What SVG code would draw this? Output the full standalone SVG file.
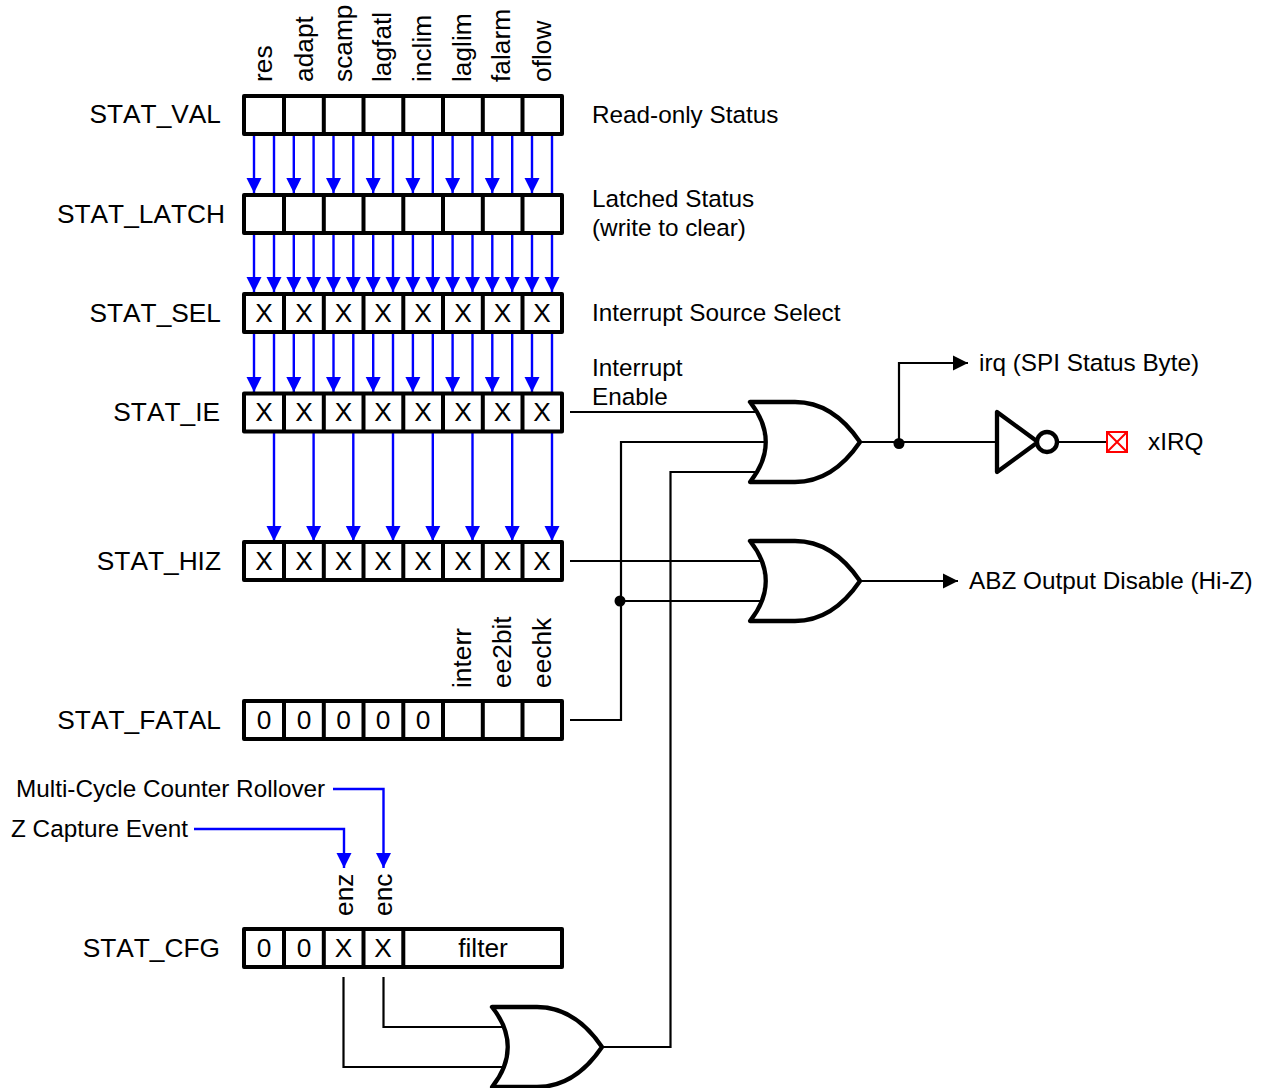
<svg xmlns="http://www.w3.org/2000/svg" xmlns:xlink="http://www.w3.org/1999/xlink" width="1262" height="1088" viewBox="0 0 1262 1088">
<style>
text{font-family:"Liberation Sans",Arial,sans-serif;font-size:26.300px;fill:#000}
.sm{font-size:24.300px}
.c{text-anchor:middle}
.e{text-anchor:end;font-kerning:none}
.reg{fill:#fff;stroke:#000;stroke-width:4;stroke-linejoin:round}
.div{stroke:#000;stroke-width:4;fill:none}
.blue{stroke:#00f;stroke-width:2.4;fill:none}
.ar{marker-end:url(#ba)}
.wire{stroke:#000;stroke-width:2.2;fill:none}
.gate{fill:#fff;stroke:#000;stroke-width:4.300;stroke-linejoin:round}
</style>
<defs>
<marker id="ba" markerUnits="userSpaceOnUse" markerWidth="16" markerHeight="16" refX="15" refY="8" orient="auto"><path d="M0,0.5L15,8L0,15.5Z" fill="#00f"/></marker>
<marker id="ka" markerUnits="userSpaceOnUse" markerWidth="16" markerHeight="16" refX="15" refY="8" orient="auto"><path d="M0,0.500L15,8L0,15.500Z" fill="#000"/></marker>
<path id="cells" class="div" d="M284,0V38M323.800,0V38M363.500,0V38M403.300,0V38M443,0V38M482.800,0V38M522.500,0V38"/>
<path id="or" class="gate" d="M0,0H45C75,0 95,18 110,40C95,62 75,80 45,80H0C21,54 21,26 0,0Z"/>
</defs>

<g id="connectors">
<path class="blue ar" d="M254,134V193"/><path class="blue" d="M274,134V193"/><path class="blue ar" d="M293.800,134V193"/><path class="blue" d="M313.600,134V193"/><path class="blue ar" d="M333.500,134V193"/><path class="blue" d="M353.300,134V193"/><path class="blue ar" d="M373.200,134V193"/><path class="blue" d="M393,134V193"/><path class="blue ar" d="M412.900,134V193"/><path class="blue" d="M432.800,134V193"/><path class="blue ar" d="M452.600,134V193"/><path class="blue" d="M472.500,134V193"/><path class="blue ar" d="M492.300,134V193"/><path class="blue" d="M512.200,134V193"/><path class="blue ar" d="M532,134V193"/><path class="blue" d="M552,134V193"/>
<path class="blue ar" d="M254,233V292"/><path class="blue ar" d="M274,233V292"/><path class="blue ar" d="M293.800,233V292"/><path class="blue ar" d="M313.600,233V292"/><path class="blue ar" d="M333.500,233V292"/><path class="blue ar" d="M353.300,233V292"/><path class="blue ar" d="M373.200,233V292"/><path class="blue ar" d="M393,233V292"/><path class="blue ar" d="M412.900,233V292"/><path class="blue ar" d="M432.800,233V292"/><path class="blue ar" d="M452.600,233V292"/><path class="blue ar" d="M472.500,233V292"/><path class="blue ar" d="M492.300,233V292"/><path class="blue ar" d="M512.200,233V292"/><path class="blue ar" d="M532,233V292"/><path class="blue ar" d="M552,233V292"/>
<path class="blue ar" d="M254,332V392"/><path class="blue" d="M274,332V392"/><path class="blue ar" d="M293.800,332V392"/><path class="blue" d="M313.600,332V392"/><path class="blue ar" d="M333.500,332V392"/><path class="blue" d="M353.300,332V392"/><path class="blue ar" d="M373.200,332V392"/><path class="blue" d="M393,332V392"/><path class="blue ar" d="M412.900,332V392"/><path class="blue" d="M432.800,332V392"/><path class="blue ar" d="M452.600,332V392"/><path class="blue" d="M472.500,332V392"/><path class="blue ar" d="M492.300,332V392"/><path class="blue" d="M512.200,332V392"/><path class="blue ar" d="M532,332V392"/><path class="blue" d="M552,332V392"/>
<path class="blue ar" d="M274,432V541"/><path class="blue ar" d="M313.600,432V541"/><path class="blue ar" d="M353.300,432V541"/><path class="blue ar" d="M393,432V541"/><path class="blue ar" d="M432.800,432V541"/><path class="blue ar" d="M472.500,432V541"/><path class="blue ar" d="M512.200,432V541"/><path class="blue ar" d="M552,432V541"/>
<path class="blue ar" d="M333,789H383.500V868"/>
<path class="blue ar" d="M194,829H344V868"/>
<path class="wire" d="M570,412H760"/>
<path class="wire" d="M570,720H621V442H770"/>
<path class="wire" d="M621,601H770"/>
<path class="wire" d="M570,561H760"/>
<path class="wire" d="M760,472H670.500V1047H600"/>
<path class="wire" d="M383.500,977V1027H510"/>
<path class="wire" d="M343.500,977V1067H510"/>
<path class="wire" d="M855,442H1000"/>
<path class="wire" style="marker-end:url(#ka)" d="M899,442V363H968"/>
<path class="wire" style="marker-end:url(#ka)" d="M855,581H958"/>
<path class="wire" d="M1055,442H1107"/>
<circle cx="899" cy="443.500" r="5.500" fill="#000"/>
<circle cx="620" cy="601" r="5.500" fill="#000"/>
</g>

<g id="stat_val"><rect class="reg" x="244" y="96" width="318" height="38"/><use xlink:href="#cells" y="96"/>
<text class="e" x="221" y="123">STAT_VAL</text><text class="sm" x="592" y="123">Read-only Status</text>
<text transform="translate(272,82) rotate(-90)">res</text>
<text transform="translate(313,82) rotate(-90)">adapt</text><text transform="translate(352,82) rotate(-90)">scamp</text><text transform="translate(391,82) rotate(-90)">lagfatl</text><text transform="translate(431,82) rotate(-90)">inclim</text><text transform="translate(471,82) rotate(-90)">laglim</text><text transform="translate(510,82) rotate(-90)">falarm</text><text transform="translate(551,82) rotate(-90)">oflow</text></g>

<g id="stat_latch"><rect class="reg" x="244" y="195" width="318" height="38"/><use xlink:href="#cells" y="195"/>
<text class="e" x="225" y="223">STAT_LATCH</text><text class="sm" x="592" y="207">Latched Status</text><text class="sm" x="592" y="236">(write to clear)</text></g>

<g id="stat_sel"><rect class="reg" x="244" y="294" width="318" height="38"/><use xlink:href="#cells" y="294"/>
<text class="e" x="221" y="322">STAT_SEL</text><text class="sm" x="592" y="321">Interrupt Source Select</text>
<text class="c" x="264" y="322">X</text><text class="c" x="304" y="322">X</text><text class="c" x="343.500" y="322">X</text><text class="c" x="383" y="322">X</text><text class="c" x="423" y="322">X</text><text class="c" x="463" y="322">X</text><text class="c" x="502.500" y="322">X</text><text class="c" x="542" y="322">X</text></g>

<g id="stat_ie"><rect class="reg" x="244" y="393.500" width="318" height="38"/><use xlink:href="#cells" y="393.500"/>
<text class="e" x="220" y="421">STAT_IE</text><text class="sm" x="592" y="376">Interrupt</text><text class="sm" x="592" y="405">Enable</text>
<text class="c" x="264" y="421">X</text><text class="c" x="304" y="421">X</text><text class="c" x="343.500" y="421">X</text><text class="c" x="383" y="421">X</text><text class="c" x="423" y="421">X</text><text class="c" x="463" y="421">X</text><text class="c" x="502.500" y="421">X</text><text class="c" x="542" y="421">X</text></g>

<g id="stat_hiz"><rect class="reg" x="244" y="542" width="318" height="38"/><use xlink:href="#cells" y="542"/>
<text class="e" x="221" y="570">STAT_HIZ</text>
<text class="c" x="264" y="570">X</text><text class="c" x="304" y="570">X</text><text class="c" x="343.500" y="570">X</text><text class="c" x="383" y="570">X</text><text class="c" x="423" y="570">X</text><text class="c" x="463" y="570">X</text><text class="c" x="502.500" y="570">X</text><text class="c" x="542" y="570">X</text></g>

<g id="stat_fatal"><rect class="reg" x="244" y="701" width="318" height="38"/><use xlink:href="#cells" y="701"/>
<text class="e" x="221" y="729">STAT_FATAL</text>
<text class="c" x="264" y="729">0</text><text class="c" x="304" y="729">0</text><text class="c" x="343.500" y="729">0</text><text class="c" x="383" y="729">0</text><text class="c" x="423" y="729">0</text>
<text transform="translate(471,688) rotate(-90)">interr</text><text transform="translate(511,688) rotate(-90)">ee2bit</text><text transform="translate(551,688) rotate(-90)">eechk</text></g>

<g id="stat_cfg"><rect class="reg" x="244" y="929" width="318" height="38"/><path class="div" d="M284,929V967M323.800,929V967M363.500,929V967M403.300,929V967"/>
<text class="e" x="220" y="957">STAT_CFG</text>
<text class="c" x="264" y="957">0</text><text class="c" x="304" y="957">0</text><text class="c" x="343.500" y="957">X</text><text class="c" x="383" y="957">X</text><text class="c" x="483" y="957">filter</text>
<text transform="translate(353,916) rotate(-90)">enz</text><text transform="translate(392,916) rotate(-90)">enc</text></g>

<g id="label_rollover"><text class="sm" x="16" y="797">Multi-Cycle Counter Rollover</text></g>
<g id="label_capture"><text class="sm" x="11" y="837">Z Capture Event</text></g>
<g id="gate_or1"><use xlink:href="#or" x="750" y="402"/></g>
<g id="gate_or2"><use xlink:href="#or" x="750" y="541"/></g>
<g id="gate_or3"><use xlink:href="#or" x="492" y="1007"/></g>
<g id="gate_not"><path class="gate" d="M997,412V472L1038,442Z"/><circle class="gate" cx="1047" cy="442" r="10"/></g>
<g id="pad_xirq"><rect x="1107" y="432" width="20" height="20" fill="#fff" stroke="#f00" stroke-width="2"/><path d="M1107,432L1127,452M1127,432L1107,452" stroke="#f00" stroke-width="2"/></g>
<g id="labels"><text class="sm" x="979" y="371">irq (SPI Status Byte)</text><text class="sm" x="1148" y="450">xIRQ</text><text class="sm" x="969" y="589">ABZ Output Disable (Hi-Z)</text></g>
</svg>
